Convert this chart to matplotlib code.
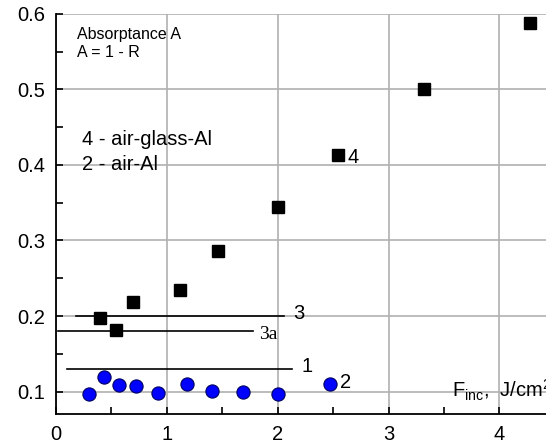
import matplotlib
matplotlib.use('Agg')
import matplotlib.pyplot as plt
import numpy as np

plt.rcParams['font.family'] = ['Liberation Sans', 'DejaVu Sans']
plt.rcParams['mathtext.fontset'] = 'custom'
plt.rcParams['mathtext.rm'] = 'Liberation Sans'
plt.rcParams['mathtext.it'] = 'Liberation Sans'

# serie 4: air-glass-Al (quadrados)
f4 = [0.40, 0.54, 0.69, 1.12, 1.46, 2.00, 2.54, 3.32, 4.28]
a4 = [0.197, 0.181, 0.219, 0.235, 0.286, 0.344, 0.413, 0.501, 0.588]

# serie 2: air-Al (circulos)
f2 = [0.30, 0.43, 0.57, 0.72, 0.92, 1.18, 1.41, 1.69, 2.00, 2.47]
a2 = [0.097, 0.120, 0.109, 0.108, 0.098, 0.110, 0.101, 0.100, 0.097, 0.110]

# linhas horizontais: nivel, x inicial, x final, rotulo
niveis = [0.200, 0.180, 0.130]
x_ini = [0.18, 0.02, 0.10]
x_fim = [2.06, 1.78, 2.13]
rotulos = ['3', '3a', '1']

fig = plt.figure(figsize=(5.46, 4.45), dpi=100)
ax = fig.add_axes([0.1026, 0.069, 0.8974, 0.9])

ax.set_xlim(0, 4.42)
ax.set_ylim(0.07, 0.6)
ax.set_xticks([0, 1, 2, 3, 4])
ax.set_xticks(np.arange(0.5, 4.5, 1.0), minor=True)
ax.set_yticks([0.1, 0.2, 0.3, 0.4, 0.5, 0.6])
ax.set_yticklabels(['0.1', '0.2', '0.3', '0.4', '0.5', '0.6'])
ax.set_yticks(np.arange(0.15, 0.6, 0.1), minor=True)
ax.tick_params(which='both', direction='in', labelsize=14.5, pad=8, width=1.2)
ax.tick_params(which='major', length=5)
ax.tick_params(which='minor', length=5)
ax.grid(True, which='major', color='#b0b0b0', linewidth=1.2)
ax.set_axisbelow(True)
for s in ['top', 'right']:
    ax.spines[s].set_visible(False)
for s in ['left', 'bottom']:
    ax.spines[s].set_linewidth(1.3)

for y, xa, xb, r in zip(niveis, x_ini, x_fim, rotulos):
    ax.plot([xa, xb], [y, y], color='black', linewidth=1.2)
    if r == '3a':
        ax.text(xb + 0.05, y - 0.004, r, fontsize=14, family='Liberation Serif', va='center', ha='left')
    else:
        ax.text(xb + 0.08, y + 0.003, r, fontsize=14.5, va='center', ha='left')

ax.plot(f4, a4, 's', color='black', markersize=8.5, clip_on=False)
ax.plot(f2, a2, 'o', color='#0000ff', markeredgecolor='#000060', markersize=9.5, markeredgewidth=0.8)

ax.text(f4[6] + 0.09, a4[6] - 0.003, '4', fontsize=14.5, va='center', ha='left')
ax.text(f2[-1] + 0.09, a2[-1] + 0.002, '2', fontsize=14.5, va='center', ha='left')

ax.text(0.19, 0.582, 'Absorptance A\nA = 1 - R', fontsize=11.5, va='top', ha='left', linespacing=1.2)
ax.text(0.23, 0.433, '4 - air-glass-Al', fontsize=14.5, va='center', ha='left')
ax.text(0.23, 0.400, '2 - air-Al', fontsize=14.5, va='center', ha='left')
ax.text(3.57, 0.101, r'F$_{\rm inc}$,  J/cm$^2$', fontsize=14.5, va='center', ha='left')

fig.savefig('out.png', dpi=100)
